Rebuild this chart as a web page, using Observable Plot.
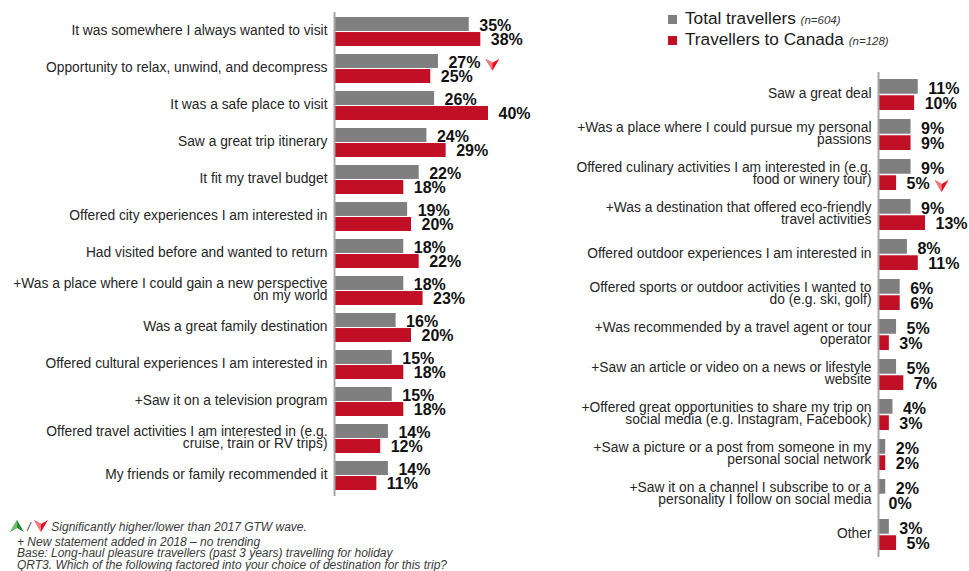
<!DOCTYPE html>
<html>
<head>
<meta charset="utf-8">
<script src="https://cdn.jsdelivr.net/npm/d3@7"></script>
<script src="https://cdn.jsdelivr.net/npm/@observablehq/plot@0.6"></script>
<style>
  html, body { margin: 0; padding: 0; background: #fff; }
  body { width: 969px; height: 571px; position: relative; overflow: hidden; font-family: Arial, "Liberation Sans", sans-serif; }
  .abs { position: absolute; }
  .leg { position: absolute; left: 668px; font-size: 17.2px; color: #1a1a1a; white-space: nowrap; line-height: 20px; }
  .leg .sw { display: inline-block; width: 9px; height: 9px; margin-right: 8px; vertical-align: 0px; }
  .leg i { font-size: 11.5px; color: #333; }
  .note { position: absolute; font-style: italic; font-size: 12px; line-height: 12px; color: #3a3a3a; white-space: nowrap; }
</style>
</head>
<body>
<div id="left" class="abs" style="left:0;top:0"></div>
<div id="right" class="abs" style="left:560px;top:0"></div>
<div class="leg" style="top:7.5px"><span class="sw" style="background:#7f7f7f"></span>Total travellers <i>(n=604)</i></div>
<div class="leg" style="top:28.5px"><span class="sw" style="background:#c10f25"></span>Travellers to Canada <i>(n=128)</i></div>
<div class="note" style="left:10px;top:520px">
  <svg width="14" height="12" viewBox="0 0 14 12" style="vertical-align:-1px"><polygon points="0,12 7,8 14,12 7,0" fill="#1f8a32"/><polygon points="0,12 7,8 7,0" fill="#6cc070"/></svg>
  /
  <svg width="14" height="12" viewBox="0 0 14 12" style="vertical-align:-1px"><polygon points="0,0 7,4 14,0 7,12" fill="#e8101e"/><polygon points="0,0 7,4 7,12" fill="#f77a80"/></svg>
  Significantly higher/lower than 2017 GTW wave.</div>
<div class="note" style="left:17px;top:535.5px">+ New statement added in 2018 – no trending</div>
<div class="note" style="left:17px;top:547px">Base: Long-haul pleasure travellers (past 3 years) travelling for holiday</div>
<div class="note" style="left:17px;top:558.5px">QRT3. Which of the following factored into your choice of destination for this trip?</div>

<script>
// ---------- data ----------
const leftCategories = [
  "It was somewhere I always wanted to visit",
  "Opportunity to relax, unwind, and decompress",
  "It was a safe place to visit",
  "Saw a great trip itinerary",
  "It fit my travel budget",
  "Offered city experiences I am interested in",
  "Had visited before and wanted to return",
  "+Was a place where I could gain a new perspective\non my world",
  "Was a great family destination",
  "Offered cultural experiences I am interested in",
  "+Saw it on a television program",
  "Offered travel activities I am interested in (e.g.\ncruise, train or RV trips)",
  "My friends or family recommended it"
];
const leftTotal  = [35, 27, 26, 24, 22, 19, 18, 18, 16, 15, 15, 14, 14];
const leftCanada = [38, 25, 40, 29, 18, 20, 22, 23, 20, 18, 18, 12, 11];
// significance flags: "" none, "down" lower than 2017
const leftTotalSig  = ["", "down", "", "", "", "", "", "", "", "", "", "", ""];
const leftCanadaSig = ["", "", "", "", "", "", "", "", "", "", "", "", ""];

const rightCategories = [
  "Saw a great deal",
  "+Was a place where I could pursue my personal\npassions",
  "Offered culinary activities I am interested in (e.g.\nfood or winery tour)",
  "+Was a destination that offered eco-friendly\ntravel activities",
  "Offered outdoor experiences I am interested in",
  "Offered sports or outdoor activities I wanted to\ndo (e.g. ski, golf)",
  "+Was recommended by a travel agent or tour\noperator",
  "+Saw an article or video on a news or lifestyle\nwebsite",
  "+Offered great opportunities to share my trip on\nsocial media (e.g. Instagram, Facebook)",
  "+Saw a picture or a post from someone in my\npersonal social network",
  "+Saw it on a channel I subscribe to or a\npersonality I follow on social media",
  "Other"
];
const rightTotal  = [11, 9, 9, 9, 8, 6, 5, 5, 4, 2, 2, 3];
const rightCanada = [10, 9, 5, 13, 11, 6, 3, 7, 3, 2, 0, 5];
const rightTotalSig  = ["", "", "", "", "", "", "", "", "", "", "", ""];
const rightCanadaSig = ["", "", "down", "", "", "", "", "", "", "", "", ""];

const seriesNames = ["Total travellers", "Travellers to Canada"];
const colors = ["#7f7f7f", "#c10f25"];

// ---------- helpers ----------
const FONT = 'Arial, "Liberation Sans", sans-serif';
const downArrow = "data:image/svg+xml;utf8," + encodeURIComponent(
  '<svg xmlns="http://www.w3.org/2000/svg" width="14" height="12" viewBox="0 0 14 12"><polygon points="0,0 7,4 14,0 7,12" fill="#e8101e"/><polygon points="0,0 7,4 7,12" fill="#f77a80"/></svg>');

function labelWidth(v) { // approx width of bold 16px "NN%"
  return String(v).length * 8.9 + 14.2;
}

function panel({cats, total, canada, totalSig, canadaSig, width, height, xMax, xRange, yRange, step, marginTop, marginBottom}) {
  const rows = cats.map((c, i) => ({cat: c, total: total[i], canada: canada[i], ts: totalSig[i], cs: canadaSig[i]}));
  const band = step * 0.78;
  const half = band / 2;
  const sigMarks = [];
  rows.forEach(r => {
    if (r.ts) sigMarks.push(Plot.image([r], {x: "total", y: "cat", src: () => downArrow, width: 14, height: 12,
      dx: 10 + labelWidth(r.total) + 12, dy: -band / 4 + 3}));
    if (r.cs) sigMarks.push(Plot.image([r], {x: "canada", y: "cat", src: () => downArrow, width: 14, height: 12,
      dx: 10 + labelWidth(r.canada) + 12, dy: band / 4 + 3}));
  });
  return Plot.plot({
    width, height, marginTop, marginBottom, marginLeft: 0, marginRight: 0,
    style: {fontFamily: FONT, background: "transparent", overflow: "visible"},
    x: {domain: [0, xMax], range: xRange, axis: null},
    y: {domain: cats, range: yRange, padding: 0.22, axis: null},
    marks: [
      Plot.barX(rows, {x: "total", y: "cat", fill: colors[0], insetBottom: half + 0.5}),
      Plot.barX(rows, {x: "canada", y: "cat", fill: colors[1], insetTop: half + 0.5}),
      Plot.ruleX([0], {stroke: "#a6a6a6", strokeWidth: 2}),
      Plot.text(rows, {x: () => 0, y: "cat", text: "cat", dx: -7, dy: -1, textAnchor: "end", fontSize: 13.8, lineHeight: 0.86, fill: "#262626"}),
      Plot.text(rows, {x: "total", y: "cat", text: d => d.total + "%", dx: 10, dy: -band / 4 + 1.5, textAnchor: "start", fontSize: 16, fontWeight: "bold", fill: "#111"}),
      Plot.text(rows, {x: "canada", y: "cat", text: d => d.canada + "%", dx: 10, dy: band / 4 + 1, textAnchor: "start", fontSize: 16, fontWeight: "bold", fill: "#111"}),
      ...sigMarks
    ]
  });
}

const leftStep = 37.25;
document.getElementById("left").append(panel({
  cats: leftCategories, total: leftTotal, canada: leftCanada, totalSig: leftTotalSig, canadaSig: leftCanadaSig,
  width: 560, height: 500, xMax: 40, xRange: [334, 488],
  yRange: [15 - 0.22 * leftStep, 15 - 0.22 * leftStep + leftStep * 13.22], step: leftStep,
  marginTop: 12, marginBottom: 4
}));

const rightStep = 40.45;
document.getElementById("right").append(panel({
  cats: rightCategories, total: rightTotal, canada: rightCanada, totalSig: rightTotalSig, canadaSig: rightCanadaSig,
  width: 409, height: 571, xMax: 13, xRange: [318, 365],
  yRange: [76 - 0.22 * rightStep, 76 - 0.22 * rightStep + rightStep * 12.22], step: rightStep,
  marginTop: 72, marginBottom: 14
}));
</script>
</body>
</html>
